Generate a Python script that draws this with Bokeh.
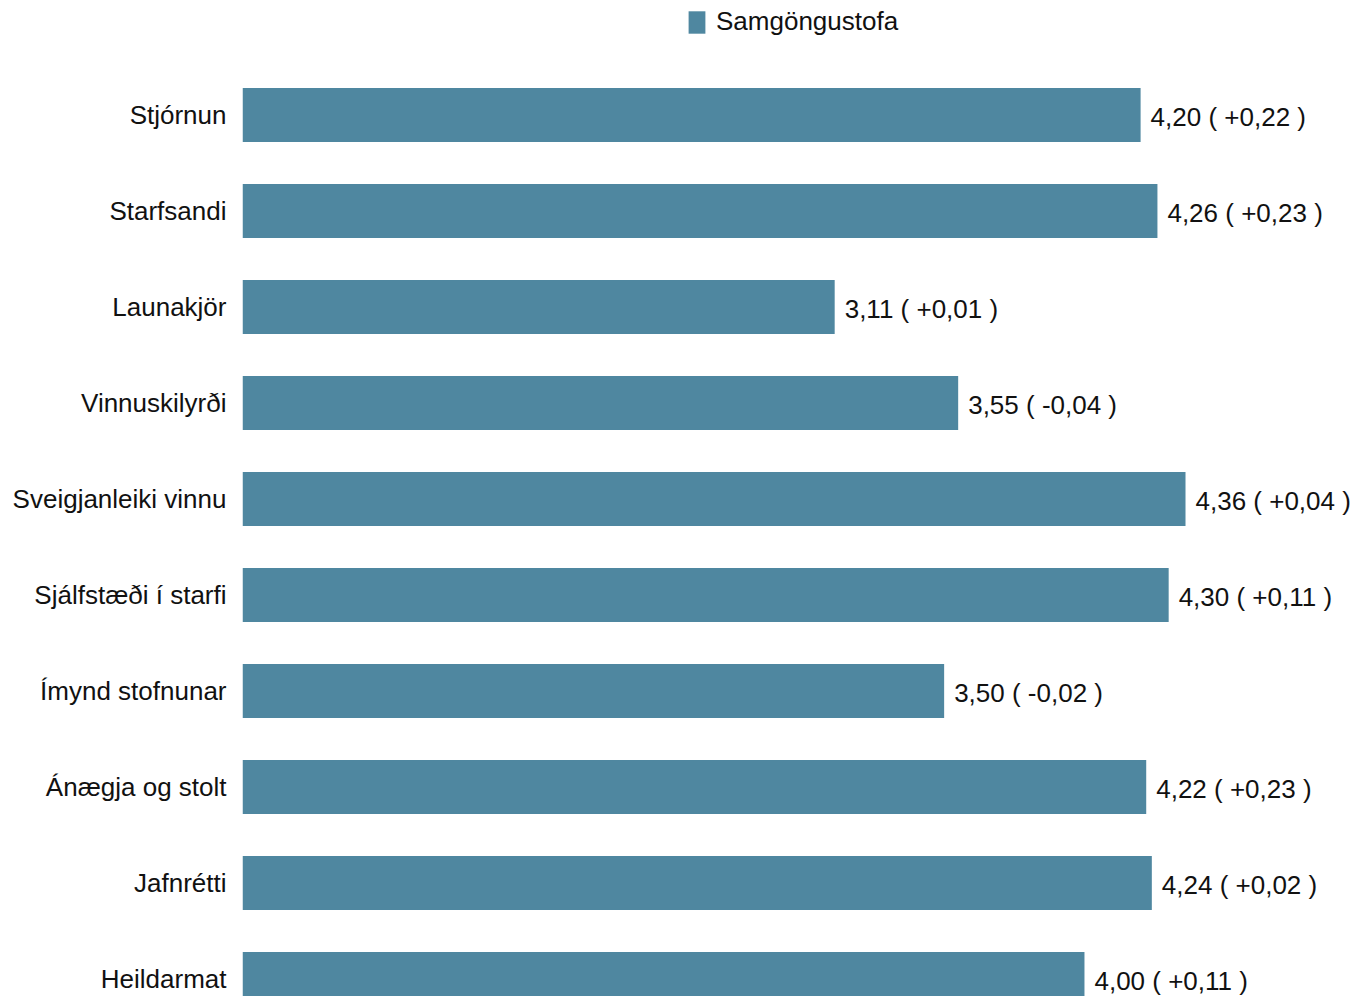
from bokeh.plotting import figure
from bokeh.models import ColumnDataSource, Range1d, FixedTicker, Legend, LegendItem, LabelSet
from bokeh.core.properties import value
from bokeh.embed import file_html
from bokeh.resources import INLINE

categories = ["Stjórnun", "Starfsandi", "Launakjör", "Vinnuskilyrði", "Sveigjanleiki vinnu",
              "Sjálfstæði í starfi", "Ímynd stofnunar", "Ánægja og stolt", "Jafnrétti", "Heildarmat"]
values = [4.20, 4.26, 3.11, 3.55, 4.36, 4.30, 3.50, 4.22, 4.24, 4.00]
changes = [0.22, 0.23, 0.01, -0.04, 0.04, 0.11, -0.02, 0.23, 0.02, 0.11]
series_name = "Samgöngustofa"
scale_min = 1.0

BAR = "#4f87a0"
FONT = "Liberation Sans"
TXT = "#111111"


def fmt(v):
    return f"{v:.2f}".replace(".", ",")


def fmt_change(c):
    s = "+" if c >= 0 else "-"
    return f"{s}{fmt(abs(c))}"


pos = list(range(len(categories)))
labels = [f"{fmt(v)} ( {fmt_change(c)} )" for v, c in zip(values, changes)]
src = ColumnDataSource(dict(y=pos, v=values, left=[scale_min] * len(values), lab=labels))

p = figure(width=1352, height=996, output_backend="svg", toolbar_location=None,
           x_range=Range1d(scale_min, 4.955), y_range=Range1d(9.182, -1.193),
           min_border_left=242, min_border_right=0, min_border_top=0, min_border_bottom=0)

r = p.hbar(y="y", left="left", right="v", height=0.5625, source=src,
           fill_color=BAR, line_color=None)

ls = LabelSet(x="v", y="y", text="lab", source=src, x_offset=10, y_offset=-2,
              text_baseline="middle", text_align="left", text_font=value(FONT),
              text_font_size="26px", text_color=TXT)
p.add_layout(ls)

p.xaxis.visible = False
p.xgrid.visible = False
p.ygrid.visible = False
p.outline_line_color = None

ya = p.yaxis[0]
ya.ticker = FixedTicker(ticks=pos)
ya.major_label_overrides = {i: c for i, c in zip(pos, categories)}
ya.axis_line_color = None
ya.major_tick_line_color = None
ya.minor_tick_line_color = None
ya.major_tick_out = 0
ya.major_tick_in = 0
ya.major_label_standoff = 16
ya.major_label_text_font = FONT
ya.major_label_text_font_size = "26px"
ya.major_label_text_color = TXT

leg = Legend(items=[LegendItem(label=series_name, renderers=[r])],
             location=(444, 959), orientation="horizontal",
             glyph_width=21, glyph_height=28, label_standoff=9, label_height=28,
             padding=0, margin=0, spacing=0,
             label_text_font=FONT, label_text_font_size="26px", label_text_color=TXT,
             border_line_color=None, background_fill_alpha=0)
p.add_layout(leg, "center")

open("out.html", "w").write(file_html(p, INLINE))
